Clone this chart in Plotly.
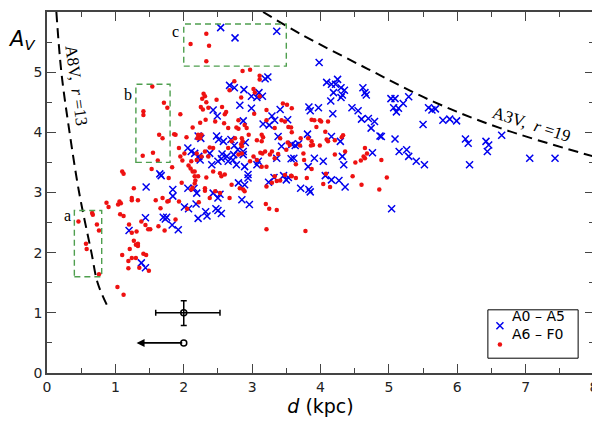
import plotly.graph_objects as go

# A0 - A5 stars (blue crosses): (d in kpc, A_V)
a0a5 = [
    (1.20, 2.37), (1.44, 2.58), (1.70, 2.59), (1.75, 2.59), (1.73, 2.56), (1.83, 2.46), (1.92, 2.38),
    (2.01, 2.76), (2.07, 2.73), (2.18, 2.81), (2.21, 2.57), (2.32, 2.68), (2.34, 2.61), (2.47, 2.73),
    (2.50, 2.70), (2.55, 2.65), (2.96, 2.80), (1.38, 1.83), (1.44, 1.75),
    (1.67, 3.28), (1.65, 3.31), (1.45, 3.09), (2.06, 3.74), (2.11, 3.68), (2.16, 3.65), (2.25, 3.90),
    (2.24, 3.54), (2.06, 3.07), (2.15, 3.07), (1.84, 3.05), (1.84, 2.94),
    (2.54, 5.74), (2.75, 5.57), (3.36, 5.68),
    (3.19, 4.89), (3.23, 4.92), (2.67, 4.78), (2.74, 4.74), (2.88, 4.71), (2.99, 4.60), (3.07, 4.58),
    (3.15, 4.60), (3.10, 4.66), (2.82, 4.45), (2.99, 4.40), (2.43, 4.37), (2.49, 4.27), (2.87, 4.19),
    (3.29, 4.27), (3.41, 4.38), (3.33, 4.20), (3.16, 4.14), (3.25, 4.12), (2.21, 3.94), (2.48, 3.94),
    (2.51, 3.88), (2.58, 3.85), (2.69, 3.88), (2.79, 3.71), (2.90, 3.83), (2.87, 3.68), (2.74, 3.78),
    (3.38, 3.93), (3.43, 3.77), (3.58, 3.80), (2.38, 3.65), (2.56, 3.64), (2.73, 3.63),
    (2.22, 3.60), (2.41, 3.46), (2.50, 3.52), (2.55, 3.56), (2.63, 3.60), (2.65, 3.52), (2.72, 3.54),
    (2.77, 3.46), (2.87, 3.63), (2.89, 3.43), (2.94, 3.30), (2.94, 3.24), (2.80, 3.16), (2.89, 3.13),
    (3.07, 3.46), (3.09, 3.52), (3.24, 3.17), (3.32, 3.25), (3.46, 3.28), (3.53, 3.25), (3.36, 3.57),
    (3.61, 3.57), (2.19, 2.99), (2.43, 2.99), (2.53, 2.97), (2.50, 2.91), (2.85, 2.88),
    (3.98, 5.16), (4.09, 4.83), (4.16, 4.80), (4.25, 4.88), (4.22, 4.80), (4.30, 4.74), (4.35, 4.70),
    (4.19, 4.66), (4.32, 4.62), (4.30, 4.58), (4.15, 4.52), (4.18, 4.31), (3.97, 4.41), (3.83, 4.42),
    (3.85, 4.36), (4.62, 4.74), (4.65, 4.66), (4.67, 4.62), (4.46, 4.41), (4.55, 4.36), (4.60, 4.22),
    (4.70, 4.23), (4.79, 4.18), (4.74, 4.07), (4.87, 3.94), (5.03, 4.56), (3.52, 4.21), (3.81, 3.97),
    (3.68, 3.81), (3.63, 3.78), (4.16, 3.93), (4.29, 3.85), (4.76, 3.66),
    (3.57, 3.56), (3.91, 3.57), (4.04, 3.52), (3.82, 3.43), (4.32, 3.60), (4.34, 3.46), (3.50, 3.21),
    (4.07, 3.28), (4.16, 3.21), (4.27, 3.20), (4.36, 3.09), (3.71, 3.07), (3.83, 3.05), (3.85, 3.01),
    (5.04, 2.73),
    (5.09, 4.56), (5.07, 4.41), (5.11, 4.34), (5.14, 4.40), (5.21, 4.48), (5.29, 4.59), (5.09, 3.89),
    (5.15, 3.68), (5.26, 3.71), (5.29, 3.60), (5.40, 3.52), (5.52, 3.46), (5.58, 4.41), (5.63, 4.37),
    (5.68, 4.39), (5.50, 4.13), (5.79, 4.20), (5.89, 4.22), (5.99, 4.19), (6.12, 3.89), (6.16, 3.82),
    (6.18, 3.46), (6.42, 3.85), (6.46, 3.79), (6.44, 3.68), (6.65, 3.95), (7.06, 3.57), (7.43, 3.57),
    (4.89, 3.93),
]

# A6 - F0 stars (red dots): (d in kpc, A_V)
a6f0 = [
    (0.46, 2.52), (0.66, 2.66), (0.67, 2.63), (0.73, 2.47), (0.76, 2.37), (0.57, 2.15), (0.58, 2.06),
    (0.76, 1.64),
    (0.87, 2.83), (0.90, 2.76), (1.04, 2.80), (1.06, 2.85), (1.08, 2.82), (1.07, 2.64), (1.12, 2.61),
    (1.20, 2.47), (1.24, 2.33), (1.31, 2.35), (1.38, 2.52), (1.44, 2.46), (1.48, 2.39), (1.51, 2.39),
    (1.63, 2.44), (1.72, 2.37), (1.88, 2.55), (1.27, 2.20), (1.33, 2.15), (1.33, 2.11), (1.30, 2.13),
    (1.21, 2.06), (1.10, 1.96), (1.19, 1.86), (1.24, 1.91), (1.30, 1.91), (1.41, 1.98), (1.45, 1.96),
    (1.19, 1.74), (1.35, 1.75), (1.49, 1.70), (1.03, 1.43), (1.12, 1.30),
    (1.27, 3.07), (1.24, 2.91), (1.24, 2.87), (1.59, 2.87), (1.76, 2.85), (1.78, 2.86), (1.93, 2.85),
    (2.11, 3.05), (2.13, 3.08), (2.05, 2.73), (1.66, 2.74), (1.33, 2.87), (1.69, 2.91),
    (3.20, 2.81), (3.25, 2.73), (3.36, 2.71), (3.21, 2.39), (3.78, 2.36),
    (1.54, 4.76), (1.71, 4.49), (1.76, 4.41), (1.41, 4.35), (1.41, 4.29), (1.64, 3.96), (1.69, 3.90),
    (1.40, 3.61), (1.55, 3.66), (1.62, 3.53),
    (1.95, 4.30), (1.86, 3.97), (1.88, 3.96), (2.13, 4.08), (2.24, 4.16), (2.27, 4.56), (2.29, 4.64),
    (2.04, 3.92), (1.93, 3.74), (1.95, 3.60), (1.98, 3.53), (1.83, 3.42), (1.53, 3.39), (1.78, 3.24),
    (1.10, 3.35), (1.12, 3.31), (2.01, 3.65), (2.11, 3.52), (2.07, 3.45), (2.10, 3.40), (2.13, 3.35),
    (1.97, 3.16), (2.16, 3.27), (2.17, 3.20), (2.16, 3.15), (2.20, 3.90), (2.28, 4.38), (2.21, 3.96),
    (2.10, 5.47), (2.33, 5.64), (2.37, 5.44), (2.33, 5.18),
    (2.86, 5.02), (2.97, 5.04), (3.11, 4.94), (3.11, 4.88), (2.74, 4.85), (2.67, 4.70), (2.31, 4.60),
    (2.48, 4.54), (2.33, 4.50), (3.02, 4.72), (3.04, 4.66), (2.84, 4.58), (3.11, 4.60), (2.25, 4.42),
    (2.36, 4.41), (2.56, 4.42), (2.62, 4.34), (3.45, 4.48), (3.51, 4.46), (3.58, 4.40), (3.21, 4.37),
    (3.03, 4.31), (2.60, 4.30), (2.32, 4.21), (2.46, 4.18), (2.59, 4.15), (2.80, 4.20), (2.89, 4.12),
    (2.77, 4.08), (2.80, 4.06), (2.92, 4.07), (3.21, 4.20), (3.43, 4.20), (3.48, 4.18), (3.33, 4.07),
    (3.41, 3.90), (3.14, 3.96), (3.16, 3.92), (3.14, 3.85), (2.95, 3.96), (2.75, 3.90), (2.65, 4.07),
    (2.26, 3.96), (2.24, 3.90), (2.38, 3.75), (2.43, 3.74), (2.85, 3.90), (2.86, 3.85), (2.84, 3.80),
    (2.85, 3.77), (2.70, 3.85), (2.65, 3.74), (3.07, 3.87), (3.12, 3.66), (3.19, 3.68), (3.15, 3.65),
    (3.29, 3.68), (3.50, 3.71), (3.55, 3.79), (2.31, 3.68), (2.19, 3.65),
    (2.26, 3.60), (2.36, 3.60), (2.19, 3.54), (2.16, 3.35), (2.21, 3.27), (2.33, 3.25), (2.43, 3.35),
    (2.53, 3.32), (2.55, 3.27), (2.60, 3.30), (2.31, 3.07), (2.31, 3.03), (2.46, 3.02), (2.53, 2.99),
    (2.38, 2.91), (2.22, 2.84), (2.70, 3.13), (2.82, 3.07), (2.87, 3.05), (2.89, 3.02), (2.67, 2.91),
    (3.26, 3.63), (3.33, 3.57), (3.38, 3.64), (3.02, 3.60), (2.97, 3.52), (3.07, 3.54), (3.14, 3.43),
    (3.21, 3.43), (3.33, 3.27), (3.36, 3.19), (3.41, 3.20), (3.29, 3.16), (3.21, 3.10), (3.58, 3.27),
    (2.80, 3.63), (2.85, 3.65),
    (3.87, 4.21), (3.91, 4.20), (3.99, 4.20), (4.01, 4.18), (4.11, 4.18), (3.94, 4.09), (3.53, 4.09),
    (3.57, 4.08), (3.58, 4.00), (4.07, 4.01), (3.71, 3.90), (3.82, 3.90), (3.87, 3.85), (4.09, 3.88),
    (4.11, 3.85), (4.21, 3.87), (4.33, 3.95), (4.31, 3.92), (3.52, 3.83), (3.70, 3.78), (3.86, 3.78),
    (3.89, 3.79), (3.99, 3.78), (3.75, 3.65), (4.21, 3.63), (4.65, 3.74), (4.68, 3.65), (4.36, 3.68),
    (3.76, 3.54), (3.64, 3.47), (3.87, 3.39), (4.51, 3.50), (4.59, 3.53), (4.65, 3.57), (4.89, 3.54),
    (3.57, 3.28), (3.48, 3.29), (3.64, 3.24), (3.80, 3.24), (4.08, 3.31), (4.04, 3.14), (4.14, 3.09),
    (4.47, 3.27), (4.60, 3.13), (4.86, 3.05), (4.97, 3.25), (4.63, 3.60),
]

# limiting-magnitude curves
a8v_d = [0.137, 0.21, 0.33, 0.47, 0.65, 0.74, 0.88]
a8v_av = [6.0, 5.0, 4.0, 3.0, 2.0, 1.5, 1.12]
a3v_d = [3.16, 3.70, 4.68, 5.65, 6.63, 7.99]
a3v_av = [6.0, 5.64, 5.06, 4.51, 4.07, 3.60]

# highlighted regions a, b, c: (label, d0, d1, av0, av1)
boxes = [("a", 0.4, 0.8, 1.6, 2.7), ("b", 1.3, 1.8, 3.5, 4.8), ("c", 2.0, 3.5, 5.1, 5.8)]

# typical error and the upper-limit arrow
err_d, err_av = 2.0, 1.0
err_d_plus, err_d_minus = 0.53, 0.41
err_av_plus, err_av_minus = 0.20, 0.21
arrow_d0, arrow_d1, arrow_av = 2.0, 1.31, 0.5

legend_names = ["A0 \u2013 A5", "A6 \u2013 F0"]

blue_d, blue_av = zip(*a0a5)
red_d, red_av = zip(*a6f0)

blue_marker = dict(symbol="x-thin", size=7, line=dict(color="#0000ee", width=1.5))
red_marker = dict(symbol="circle", size=4.5, color="#ee1111")

fig = go.Figure()

fig.add_trace(go.Scatter(x=blue_d, y=blue_av, mode="markers", name=legend_names[0],
                         marker=blue_marker, showlegend=False))
fig.add_trace(go.Scatter(x=red_d, y=red_av, mode="markers", name=legend_names[1],
                         marker=red_marker, showlegend=False))

# dashed model curves
for xs, ys in [(a8v_d, a8v_av), (a3v_d, a3v_av)]:
    fig.add_trace(go.Scatter(
        x=xs, y=ys, mode="lines", line=dict(color="black", width=2, dash="10px,6px", shape="spline"),
        showlegend=False, hoverinfo="skip"
    ))

# error bar sample
fig.add_trace(go.Scatter(
    x=[err_d], y=[err_av], mode="markers", showlegend=False,
    marker=dict(symbol="circle-open", size=6, color="black", line=dict(width=1.5)),
    error_x=dict(type="data", symmetric=False, array=[err_d_plus], arrayminus=[err_d_minus],
                 color="black", thickness=1.5, width=3),
    error_y=dict(type="data", symmetric=False, array=[err_av_plus], arrayminus=[err_av_minus],
                 color="black", thickness=1.5, width=3),
))
fig.add_annotation(
    x=arrow_d1, y=arrow_av, ax=arrow_d0, ay=arrow_av, axref="x", ayref="y", xref="x", yref="y",
    text="", showarrow=True, arrowhead=2, arrowsize=1, arrowwidth=1.6, arrowcolor="black"
)
fig.add_trace(go.Scatter(
    x=[arrow_d0], y=[arrow_av], mode="markers", showlegend=False,
    marker=dict(symbol="circle", size=6, color="white", line=dict(color="black", width=1.5))
))

serif = "Liberation Serif, Times New Roman, serif"

# green dashed boxes with letters
label_pos = {"a": (0.30, 2.61), "b": (1.19, 4.63), "c": (1.88, 5.68)}
for lab, d0, d1, v0, v1 in boxes:
    fig.add_shape(type="rect", x0=d0, x1=d1, y0=v0, y1=v1,
                  line=dict(color="#4f9f4f", width=1.4, dash="6px,4px"))
    lx, ly = label_pos[lab]
    fig.add_annotation(x=lx, y=ly, text=lab, showarrow=False,
                       font=dict(family=serif, size=16, color="black"))

fig.add_annotation(x=0.43, y=4.78, text="A8V,  <i>r</i> =13", textangle=82, showarrow=False,
                   font=dict(family=serif, size=17, color="black"))
fig.add_annotation(x=7.09, y=4.13, text="A3V,  <i>r</i> =19", textangle=18, showarrow=False,
                   font=dict(family=serif, size=17, color="black"))

# y label in the top-left corner
fig.add_annotation(x=-0.075, y=0.965, xref="paper", yref="paper", text="<i>A<sub>V</sub></i>",
                   showarrow=False, font=dict(family="DejaVu Sans", size=21, color="black"))

# hand-drawn legend box (hidden overlay axes in 0..1 units)
fig.add_shape(type="rect", xref="paper", yref="paper", x0=0.806, x1=0.971, y0=0.041, y1=0.175,
              line=dict(color="black", width=1), fillcolor="white", layer="below")
leg_y = [0.131, 0.079]
for name, mk, yy in zip(legend_names, [blue_marker, red_marker], leg_y):
    fig.add_trace(go.Scatter(x=[0.828], y=[yy], xaxis="x2", yaxis="y2", mode="markers",
                             marker=mk, showlegend=False, hoverinfo="skip"))
    fig.add_annotation(x=0.847, y=yy, xref="paper", yref="paper", text=name, xanchor="left",
                       showarrow=False, font=dict(family="DejaVu Sans", size=14, color="black"))

axis_common = dict(
    showline=True, linecolor="#444", linewidth=1.5, mirror="ticks",
    ticks="inside", ticklen=9, tickwidth=1.2, tickcolor="#444",
    showgrid=False, zeroline=False,
    tickfont=dict(family="DejaVu Sans", size=14, color="#222"),
    minor=dict(ticks="inside", ticklen=5, tickwidth=1.2, tickcolor="#444", dtick=0.5, showgrid=False),
)

# the page body adds an 8px offset, margins compensate for it
fig.update_layout(
    width=600, height=422,
    margin=dict(l=39, r=14, t=2, b=57),
    paper_bgcolor="white", plot_bgcolor="white",
    showlegend=False,
    xaxis=dict(range=[0, 8], dtick=1,
               title=dict(text="<i>d</i> (kpc)", font=dict(family="DejaVu Sans", size=19, color="black"),
                          standoff=4),
               **axis_common),
    yaxis=dict(range=[0, 6], dtick=1, **axis_common),
    xaxis2=dict(range=[0, 1], overlaying="x", visible=False, anchor="y2"),
    yaxis2=dict(range=[0, 1], overlaying="y", visible=False, anchor="x2"),
)

fig.write_html("out.html")
